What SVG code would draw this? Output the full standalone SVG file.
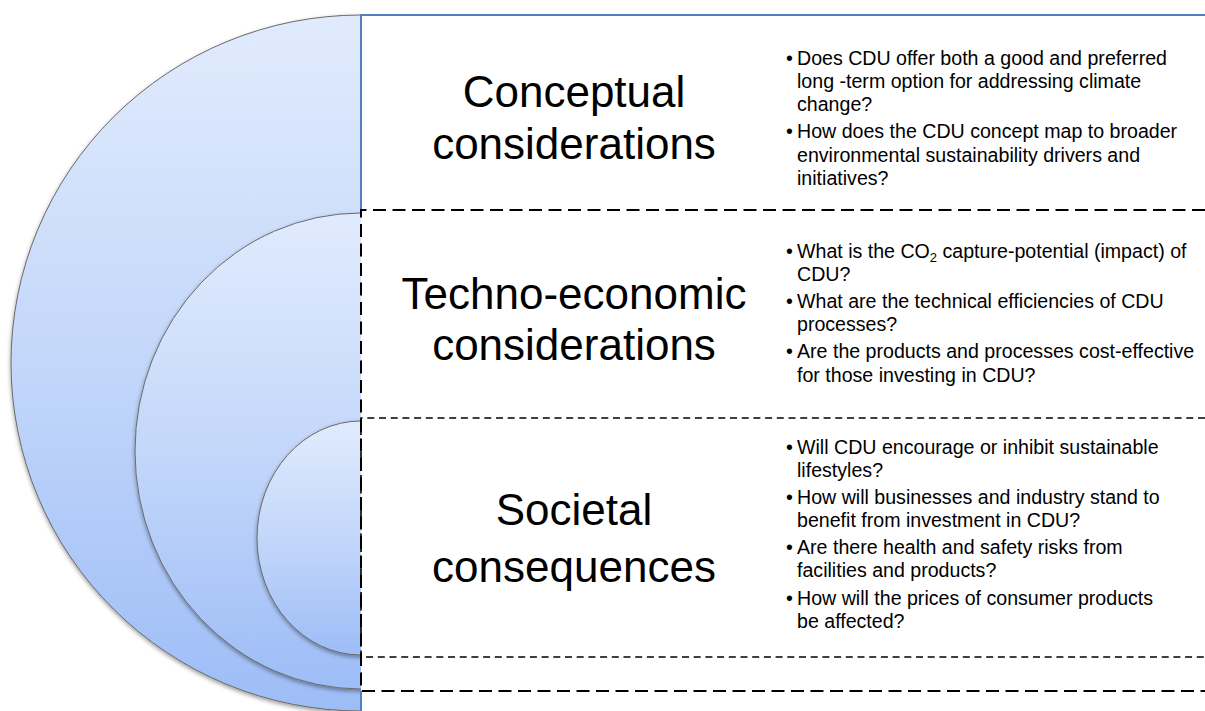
<svg xmlns="http://www.w3.org/2000/svg" width="1205" height="711" viewBox="0 0 1205 711">
  <style>
    .title { font-family: "Liberation Sans", Arial, sans-serif; font-size: 44px; fill: #000; text-anchor: middle; }
    .bul { font-family: "Liberation Sans", Arial, sans-serif; font-size: 19.6px; fill: #000; }
    .ring { stroke: #6a6a6a; stroke-width: 1; filter: url(#shadow); }
    .blue { stroke: #4f81bd; stroke-width: 2; fill: none; }
    .dashL { stroke: #000; stroke-width: 2; stroke-dasharray: 13 6.5; fill: none; }
    .dashS { stroke: #000; stroke-width: 1.6; stroke-dasharray: 7 4.7; fill: none; }
  </style>
  <defs>
    <linearGradient id="g1" x1="0" y1="0" x2="0" y2="1">
      <stop offset="0" stop-color="#e1ebfd"/>
      <stop offset="0.5" stop-color="#c3d7fa"/>
      <stop offset="1" stop-color="#9dbdf7"/>
    </linearGradient>
    <filter id="shadow" x="-10%" y="-10%" width="130%" height="130%">
      <feDropShadow dx="0" dy="2" stdDeviation="2" flood-color="#000" flood-opacity="0.4"/>
    </filter>
    <clipPath id="leftHalf">
      <rect x="0" y="0" width="361" height="711"/>
    </clipPath>
  </defs>

  <g id="rings" clip-path="url(#leftHalf)">
    <g id="ring-outer"><ellipse class="ring" cx="361" cy="363" rx="350" ry="348" fill="url(#g1)"/></g>
    <g id="ring-middle"><ellipse class="ring" cx="361" cy="451" rx="226" ry="238" fill="url(#g1)"/></g>
    <g id="ring-inner"><ellipse class="ring" cx="361" cy="538" rx="104" ry="117" fill="url(#g1)"/></g>
  </g>

  <g id="connectors">
    <path class="blue" d="M361,711 V691 M361,210 V15 H1205"/>
    <rect x="362" y="211" width="843" height="479" fill="#fff"/>
    <path class="dashL" d="M1205,210 H361 V691 H1205"/>
    <path class="dashS" d="M1205,418 H361 V657 H1205"/>
  </g>

  <g id="node-conceptual">
    <text class="title" x="574" y="107">Conceptual</text>
    <text class="title" x="574" y="159">considerations</text>
    <text class="bul"><tspan x="786" y="65">•</tspan><tspan x="797" y="65">Does CDU offer both a good and preferred</tspan><tspan x="797" y="88">long -term option for addressing climate</tspan><tspan x="797" y="111">change?</tspan></text>
    <text class="bul"><tspan x="786" y="138">•</tspan><tspan x="797" y="138">How does the CDU concept map to broader</tspan><tspan x="797" y="162">environmental sustainability drivers and</tspan><tspan x="797" y="185">initiatives?</tspan></text>
  </g>

  <g id="node-techno">
    <text class="title" x="574" y="309">Techno-economic</text>
    <text class="title" x="574" y="360">considerations</text>
    <text class="bul"><tspan x="786" y="257.5">•</tspan><tspan x="797" y="257.5">What is the CO</tspan><tspan dy="4" font-size="13">2</tspan><tspan dy="-4"> capture-potential (impact) of</tspan><tspan x="797" y="281">CDU?</tspan></text>
    <text class="bul"><tspan x="786" y="308">•</tspan><tspan x="797" y="308">What are the technical efficiencies of CDU</tspan><tspan x="797" y="331">processes?</tspan></text>
    <text class="bul"><tspan x="786" y="358">•</tspan><tspan x="797" y="358">Are the products and processes cost-effective</tspan><tspan x="797" y="382">for those investing in CDU?</tspan></text>
  </g>

  <g id="node-societal">
    <text class="title" x="574" y="525">Societal</text>
    <text class="title" x="574" y="582">consequences</text>
    <text class="bul"><tspan x="786" y="453.5">•</tspan><tspan x="797" y="453.5">Will CDU encourage or inhibit sustainable</tspan><tspan x="797" y="476.5">lifestyles?</tspan></text>
    <text class="bul"><tspan x="786" y="504">•</tspan><tspan x="797" y="504">How will businesses and industry stand to</tspan><tspan x="797" y="527">benefit from investment in CDU?</tspan></text>
    <text class="bul"><tspan x="786" y="554">•</tspan><tspan x="797" y="554">Are there health and safety risks from</tspan><tspan x="797" y="577">facilities and products?</tspan></text>
    <text class="bul"><tspan x="786" y="605">•</tspan><tspan x="797" y="605">How will the prices of consumer products</tspan><tspan x="797" y="628">be affected?</tspan></text>
  </g>
</svg>
